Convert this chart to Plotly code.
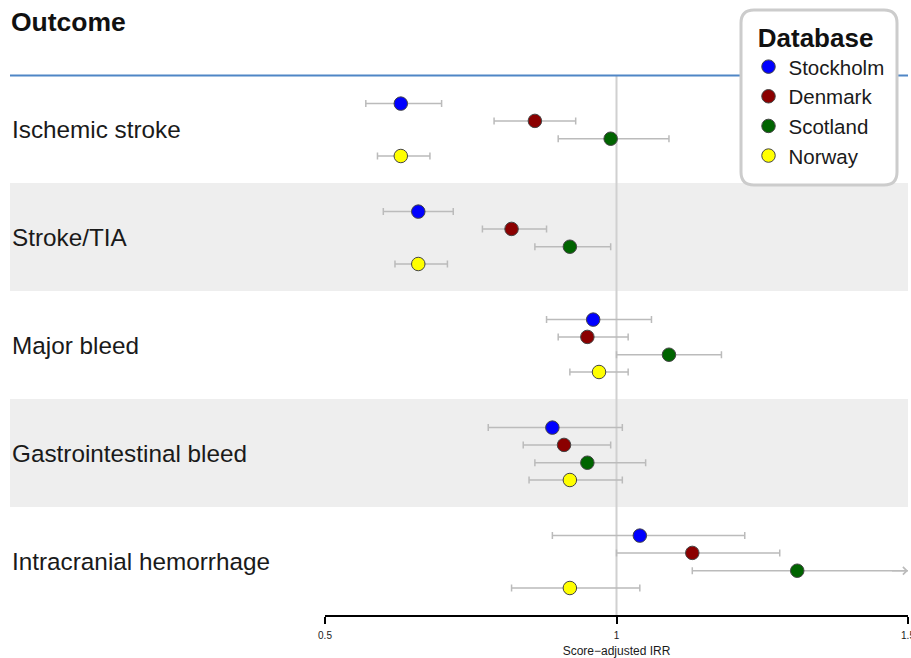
import plotly.graph_objects as go

# ---------------- data ----------------
outcomes = ["Ischemic stroke", "Stroke/TIA", "Major bleed",
            "Gastrointestinal bleed", "Intracranial hemorrhage"]
databases = ["Stockholm", "Denmark", "Scotland", "Norway"]
db_colors = ["#0000ff", "#8b0000", "#006400", "#ffff00"]

stockholm_irr = [0.63, 0.66, 0.96, 0.89, 1.04]
stockholm_lo = [0.57, 0.60, 0.88, 0.78, 0.89]
stockholm_hi = [0.70, 0.72, 1.06, 1.01, 1.22]

denmark_irr = [0.86, 0.82, 0.95, 0.91, 1.13]
denmark_lo = [0.79, 0.77, 0.90, 0.84, 1.00]
denmark_hi = [0.93, 0.88, 1.02, 0.99, 1.28]

scotland_irr = [0.99, 0.92, 1.09, 0.95, 1.31]
scotland_lo = [0.90, 0.86, 1.00, 0.86, 1.13]
scotland_hi = [1.09, 0.99, 1.18, 1.05, 1.52]

norway_irr = [0.63, 0.66, 0.97, 0.92, 0.92]
norway_lo = [0.59, 0.62, 0.92, 0.85, 0.82]
norway_hi = [0.68, 0.71, 1.02, 1.01, 1.04]

x_tick_vals = [0.5, 1, 1.5]
x_tick_text = ["0.5", "1", "1.5"]
x_range = [0.5, 1.5]
ref_value = 1
x_title = "Score\u2212adjusted IRR"

# ---------------- geometry ----------------
W, H = 911, 658
ML, MR, MT, MB = 325, 3, 75, 43
PW, PH = W - ML - MR, H - MT - MB


def px_x(p):
    return (p - ML) / PW


def px_y(p):
    return (H - MB - p) / PH


FONT = "Liberation Sans, Arial, sans-serif"
offsets = [-0.235, -0.075, 0.09, 0.25]

series = [
    (stockholm_irr, stockholm_lo, stockholm_hi),
    (denmark_irr, denmark_lo, denmark_hi),
    (scotland_irr, scotland_lo, scotland_hi),
    (norway_irr, norway_lo, norway_hi),
]

fig = go.Figure()
annotations = []

for j, (name, col, (irr, lo, hi)) in enumerate(zip(databases, db_colors, series)):
    ys = [i + 0.5 + offsets[j] for i in range(len(outcomes))]
    fig.add_trace(go.Scatter(
        x=irr, y=ys, mode="markers", name=name, legendgroup=name,
        marker=dict(size=13.5, color=col, line=dict(color="#444444", width=1)),
        error_x=dict(type="data", symmetric=False,
                     array=[h - v for h, v in zip(hi, irr)],
                     arrayminus=[v - l for v, l in zip(irr, lo)],
                     color="#bbbbbb", thickness=1.5, width=3.5),
        cliponaxis=True,
        hovertemplate=name + ": %{x:.2f}<extra></extra>",
    ))
    # arrows for CIs that run past the axis
    for v, h, y in zip(irr, hi, ys):
        if h > x_range[1]:
            annotations.append(dict(
                x=x_range[1], y=y, ax=x_range[1] - 0.03, ay=y,
                xref="x", yref="y", axref="x", ayref="y",
                text="", showarrow=True, arrowhead=4, arrowsize=1,
                arrowwidth=1.5, arrowcolor="#bbbbbb", standoff=0))

shapes = []
# alternating bands
for i in range(len(outcomes)):
    if i % 2 == 1:
        shapes.append(dict(type="rect", xref="paper", yref="y",
                           x0=px_x(10), x1=1, y0=i, y1=i + 1,
                           fillcolor="#eeeeee", line=dict(width=0),
                           layer="below"))
# reference line
shapes.append(dict(type="line", xref="x", yref="paper",
                   x0=ref_value, x1=ref_value, y0=0, y1=1,
                   line=dict(color="#d0d0d0", width=2), layer="below"))
# header rule
shapes.append(dict(type="line", xref="paper", yref="paper",
                   x0=px_x(10), x1=1, y0=px_y(75.5), y1=px_y(75.5),
                   line=dict(color="#4f86c6", width=2), layer="below"))
# rounded legend box
bw, bh, r = 156, 175, 13
hw, hh = bw / 2, bh / 2
path = (f"M{-hw + r},{-hh} L{hw - r},{-hh} Q{hw},{-hh} {hw},{-hh + r} "
        f"L{hw},{hh - r} Q{hw},{hh} {hw - r},{hh} L{-hw + r},{hh} "
        f"Q{-hw},{hh} {-hw},{hh - r} L{-hw},{-hh + r} Q{-hw},{-hh} {-hw + r},{-hh} Z")
shapes.append(dict(type="path", xref="paper", yref="paper",
                   xsizemode="pixel", ysizemode="pixel",
                   xanchor=px_x(819), yanchor=px_y(97.5), path=path,
                   fillcolor="white", line=dict(color="#cccccc", width=3),
                   layer="above"))

# row labels
for i, lab in enumerate(outcomes):
    annotations.append(dict(x=px_x(10), y=i + 0.5, xref="paper", yref="y",
                            text=lab, showarrow=False, xanchor="left",
                            yanchor="middle",
                            font=dict(family=FONT, size=24.3, color="#1a1a1a")))
# header
annotations.append(dict(x=px_x(9), y=px_y(22), xref="paper", yref="paper",
                        text="<b>Outcome</b>", showarrow=False,
                        xanchor="left", yanchor="middle",
                        font=dict(family=FONT, size=26.5, color="#111111")))

fig.update_layout(
    width=W, height=H,
    margin=dict(l=ML, r=MR, t=MT, b=MB, pad=0, autoexpand=False),
    paper_bgcolor="white", plot_bgcolor="rgba(0,0,0,0)",
    font=dict(family=FONT, color="#1a1a1a"),
    shapes=shapes, annotations=annotations,
    showlegend=True,
    legend=dict(
        title=dict(text="\u00a0<b>Database</b>",
                   font=dict(family=FONT, size=26, color="#111111")),
        font=dict(family=FONT, size=20.5, color="#1a1a1a"),
        x=px_x(748.5), y=px_y(13), xanchor="left", yanchor="top",
        bgcolor="rgba(0,0,0,0)", borderwidth=0, tracegroupgap=0,
        itemsizing="trace",
    ),
    xaxis=dict(range=x_range, tickvals=x_tick_vals, ticktext=x_tick_text,
               ticks="outside", ticklen=7, tickwidth=2, tickcolor="black",
               showline=True, linecolor="black", linewidth=2,
               showgrid=False, zeroline=False, ticklabelstandoff=3,
               ticklabeloverflow="allow", automargin=False,
               tickfont=dict(family=FONT, size=10, color="#1a1a1a"),
               title=dict(text=x_title, standoff=8,
                          font=dict(family=FONT, size=12, color="#1a1a1a"))),
    yaxis=dict(range=[len(outcomes), 0], showticklabels=False, showgrid=False,
               zeroline=False, showline=False, ticks="", automargin=False),
)

fig.write_html("out.html",
               config={"displayModeBar": False},
               post_script="document.body.style.margin='0';"
                           "document.body.style.padding='0';")
